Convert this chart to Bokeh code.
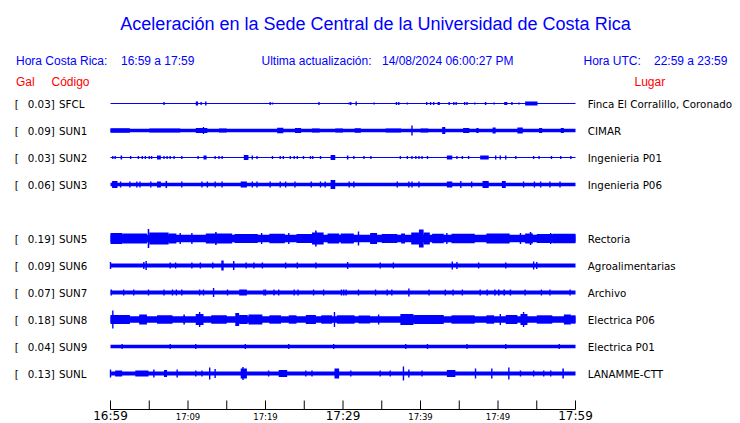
from bokeh.plotting import figure
from bokeh.models import Range1d, ColumnDataSource
from bokeh.core.properties import value
from bokeh.embed import file_html
from bokeh.resources import INLINE

# ---------------- data ----------------
title = "Aceleración en la Sede Central de la Universidad de Costa Rica"
hora_cr = "16:59 a 17:59"
actualizacion = "14/08/2024 06:00:27 PM"
hora_utc = "22:59 a 23:59"

stations = ["SFCL", "SUN1", "SUN2", "SUN3", "SUN5", "SUN6", "SUN7", "SUN8", "SUN9", "SUNL"]
slots = [0, 1, 2, 3, 5, 6, 7, 8, 9, 10]          # SUN4 slot is empty
peak_gal = ["0.03", "0.09", "0.03", "0.06", "0.19", "0.09", "0.07", "0.18", "0.04", "0.13"]
places = ["Finca El Corralillo, Coronado", "CIMAR", "Ingenieria P01", "Ingenieria P06",
          "Rectoria", "Agroalimentarias", "Archivo", "Electrica P06", "Electrica P01",
          "LANAMME-CTT"]

# background amplitude of each trace (display units)
base_amp = [0.6, 1.7, 0.6, 1.8, 3.8, 1.9, 1.9, 3.2, 1.8, 1.9]

# bursts: (minute start, minute end, half amplitude) ; spikes: (minute, half amplitude)
sfcl = [(6.9, 1.5), (11.0, 11.3, 2), (11.7, 1.5), (12.3, 2), (20.6, 1.5), (20.9, 1), (26.9, 1.5),
        (30.8, 1), (31.0, 1.5), (31.7, 2), (34.0, 1), (36.9, 1.5), (37.2, 1.5), (38.3, 1),
        (40.8, 1.5), (41.3, 1.5), (41.7, 1.5), (42.2, 42.5, 1.5), (43.7, 1.5), (44.3, 1.5),
        (44.6, 1.5), (45.7, 1.5), (46.0, 1.5), (47.0, 1), (48.3, 48.5, 1.5), (49.5, 1),
        (50.8, 51.2, 1.5), (51.8, 1.5), (52.7, 1), (53.5, 55.1, 2)]
sun1 = [(0.0, 2.5, 2.2), (5.0, 9.0, 2.1), (11.0, 12.5, 2.4), (12.0, 3.5), (14.0, 15.0, 2.1),
        (21.5, 22.3, 2.8), (23.8, 24.6, 2.6), (26.0, 27.0, 2.1), (29.0, 30.0, 2.1),
        (31.5, 32.3, 2.3), (35.5, 37.5, 2.1), (38.9, 5), (40.0, 41.0, 2.1), (42.8, 43.2, 3.5),
        (45.5, 46.3, 2.6), (47.2, 47.5, 2.6), (49.3, 49.7, 3), (52.5, 53.2, 3),
        (55.3, 55.7, 2.6), (58.1, 58.5, 2.6)]
sun2 = [(0.3, 1.5), (0.6, 1.5), (1.3, 1.5, 2), (2.6, 1.5), (3.6, 1.5), (4.1, 1.5), (4.5, 1.5),
        (5.0, 1.5), (5.3, 1.5), (6.0, 6.5, 2), (6.9, 1.5), (7.3, 1.5), (7.7, 1.5), (8.2, 1.5),
        (9.2, 1.5), (11.3, 1.5), (12.0, 12.4, 2), (13.5, 1.5), (14.0, 1.5), (14.4, 1.5),
        (17.2, 17.8, 2.5), (18.3, 2), (18.9, 1.5), (20.9, 1.5), (21.9, 1.5), (22.3, 1.5),
        (23.2, 1.5), (23.7, 1.5), (24.1, 1.5), (24.9, 1.5), (25.8, 1.5), (26.1, 1.5),
        (27.1, 1.5), (28.4, 29.0, 2.5), (30.5, 30.7, 2), (31.4, 1.5), (32.7, 1.5), (33.6, 1.5),
        (37.4, 1.5), (38.3, 1.5), (38.9, 1.5), (39.4, 1.5), (39.8, 1.5), (40.2, 1.5),
        (40.9, 1.5), (43.4, 44.1, 2), (44.7, 1.5), (45.4, 1.5), (46.2, 1.5), (47.7, 48.8, 2),
        (49.7, 2), (50.3, 2), (51.0, 2), (52.3, 1.5), (54.6, 1.5), (55.3, 1.5), (56.9, 1.5),
        (58.1, 1.5), (59.4, 1.5)]
sun3 = [(0.2, 0.9, 3.5), (1.3, 3), (2.5, 3), (3.4, 3), (3.8, 3), (5.2, 3), (6.0, 6.5, 3),
        (7.1, 7.3, 3.5), (9.2, 3), (11.8, 3), (12.5, 3), (13.5, 3), (14.4, 3), (16.8, 17.6, 3),
        (18.3, 3), (18.9, 3), (20.6, 3), (21.9, 3), (22.6, 3), (23.8, 3), (25.9, 3), (27.1, 3),
        (27.7, 3), (28.4, 29.0, 4.5), (30.8, 3), (31.4, 3), (37.0, 3), (38.5, 3), (38.9, 3),
        (39.8, 3), (43.4, 44.1, 3), (45.2, 3.5), (46.6, 3), (48.0, 48.8, 3.5),
        (50.5, 51.0, 3.5), (53.3, 3), (54.7, 3), (55.5, 3), (56.7, 3), (58.0, 3)]
sun5 = [(0.0, 1.5, 5.5), (1.5, 4.7, 5), (4.8, 5.0, 9.5), (5.0, 7.5, 6), (7.5, 8.5, 5),
        (9.0, 5.5), (10.5, 5.5), (12.3, 15.7, 5), (13.5, 13.7, 6.5), (16.0, 19.0, 4.5),
        (19.5, 5.5), (20.5, 22.5, 4.8), (23.0, 5.5), (24.0, 26.0, 4.5), (26.0, 27.5, 6),
        (26.4, 26.6, 8), (28.0, 29.5, 5), (29.7, 31.4, 5), (32.0, 7), (33.5, 34.4, 5.5),
        (35.0, 37.0, 4.5), (37.5, 38.0, 5), (38.8, 39.8, 6), (39.8, 40.4, 9), (40.4, 41.2, 6),
        (41.5, 43.0, 4.8), (43.4, 5.5), (44.0, 47.0, 4.8), (48.5, 51.5, 5), (52.9, 5.5),
        (53.5, 54.5, 5), (54.1, 54.3, 6.5), (55.0, 57.0, 4.5), (56.8, 5.5), (57.0, 60.0, 4.8)]
sun6 = [(0.0, 3.5), (4.3, 3.5), (4.6, 4.5), (7.7, 3), (8.4, 3), (10.5, 3), (11.6, 3), (13.2, 3),
        (14.3, 14.6, 5), (15.9, 4.5), (17.5, 3), (18.5, 3), (19.6, 3), (22.6, 3), (24.1, 3),
        (26.5, 3), (30.6, 3.5), (34.8, 3), (36.5, 3), (44.1, 4), (44.7, 3.5), (47.5, 3),
        (51.0, 3), (54.6, 4), (55.0, 3.5)]
sun7 = [(0.1, 3), (1.7, 3), (3.0, 3), (4.9, 3), (6.9, 3), (8.0, 3), (8.5, 3), (9.2, 3),
        (11.5, 3), (12.0, 3), (13.3, 4.5), (15.1, 3), (16.6, 17.6, 3), (19.8, 3), (20.0, 3),
        (21.1, 3), (21.7, 3), (23.7, 3), (24.2, 3), (26.2, 3), (27.5, 3), (29.8, 3), (30.1, 3),
        (30.4, 3), (32.0, 3), (34.2, 3), (35.7, 3), (36.3, 3), (38.5, 4), (41.1, 3), (43.2, 3),
        (44.2, 3), (45.4, 3), (47.7, 3), (48.6, 3), (49.5, 49.7, 3), (50.0, 50.2, 3),
        (50.7, 50.9, 3), (51.5, 51.7, 3), (53.5, 3), (55.6, 3), (56.7, 3), (59.3, 3)]
sun8 = [(0.0, 2.5, 4.5), (0.3, 9), (3.7, 4.7, 5), (6.0, 8.0, 4.2), (9.4, 9.6, 5),
        (11.0, 12.0, 5.5), (11.5, 7.5), (13.0, 15.0, 4.2), (16.1, 16.6, 6.5), (16.6, 17.7, 4.5),
        (17.8, 19.6, 5), (20.5, 22.0, 4.2), (23.0, 24.0, 4.2), (25.2, 26.5, 4.5), (27.2, 28.6, 4.2),
        (28.9, 7.5), (29.2, 31.5, 4.2), (32.0, 33.5, 4), (34.6, 5), (37.4, 39.1, 5.5),
        (39.1, 43.0, 4.5), (44.0, 47.0, 4.2), (48.5, 49.5, 4.2), (50.3, 5.5), (51.0, 52.5, 4.5),
        (52.9, 53.8, 5.5), (53.3, 7.5), (55.0, 57.0, 4.2), (58.5, 59.4, 5), (59.4, 60.0, 4.2)]
sun9 = [(1.5, 2.5), (7.7, 2.5), (11.0, 2.5), (17.4, 2.5), (23.0, 2.5), (28.8, 2.5), (38.1, 2.5),
        (40.9, 2.5), (46.0, 2.5), (51.0, 2.5), (57.9, 2.5)]
sunl = [(0.0, 4), (0.6, 1.5, 3), (3.2, 4.9, 3), (5.6, 4), (6.9, 7.3, 3.5), (8.6, 4), (11.0, 3),
        (11.8, 3), (12.8, 6), (13.5, 4.5), (16.8, 17.6, 5), (17.1, 6.5), (20.4, 3),
        (21.7, 22.8, 3.5), (25.2, 3), (26.0, 3), (28.9, 29.5, 5), (31.0, 3), (34.8, 3),
        (36.1, 3), (37.8, 7), (38.5, 4), (40.2, 3), (43.4, 44.5, 3.5), (47.1, 5), (49.2, 5),
        (51.4, 6), (52.9, 3), (54.6, 3), (55.9, 3), (56.8, 3), (58.3, 58.5, 5)]
bursts = [sfcl, sun1, sun2, sun3, sun5, sun6, sun7, sun8, sun9, sunl]

tick_minutes = [0, 5, 10, 15, 20, 25, 30, 35, 40, 45, 50, 55, 60]
small_minutes = [10, 20, 40, 50]
small_labels = ["17:09", "17:19", "17:39", "17:49"]
big_minutes = [0, 30, 60]
big_labels = ["16:59", "17:29", "17:59"]

# ---------------- layout ----------------
W, H = 740, 423
X0, PXMIN = 110.0, 7.75          # page x of minute 0, pixels per minute
Y0, DY = 103.0, 27.0             # page y of first trace, trace spacing
AXIS_Y = 409.0
BLUE, RED = "#0000ff", "#ff0000"
SPIKE_W = 0.18


def px(x):
    """page x (pixels) -> minutes"""
    return (x - X0) / PXMIN


p = figure(width=W, height=H, output_backend="svg", toolbar_location=None,
           x_axis_location=None, y_axis_location=None,
           x_range=Range1d(px(0), px(W)), y_range=Range1d(H, 0),
           min_border_left=0, min_border_right=0, min_border_top=0, min_border_bottom=0)
p.outline_line_color = None
p.grid.visible = False
p.background_fill_color = "white"
p.border_fill_color = "white"

# traces
L, R, T, B = [], [], [], []
for slot, b, bl in zip(slots, base_amp, bursts):
    yc = Y0 + DY * slot
    L.append(0); R.append(60); T.append(yc - b); B.append(yc + b)
    for e in bl:
        if len(e) == 2:
            t0, t1, a = e[0] - SPIKE_W / 2, e[0] + SPIKE_W / 2, e[1]
        else:
            t0, t1, a = e
        L.append(t0); R.append(t1); T.append(yc - a); B.append(yc + a)
p.quad(left=L, right=R, top=T, bottom=B, fill_color=BLUE, line_color=None)

# station labels
ys = [Y0 + DY * s + 0.3 for s in slots]
lab = ColumnDataSource(dict(y=ys, gal=[g + "]" for g in peak_gal], code=stations, place=places,
                            br=["["] * len(slots)))
fnt = value("DejaVu Sans")
for xx, col in [(14.3, "br"), (27.3, "gal"), (58.5, "code"), (587.3, "place")]:
    p.text(x=px(xx), y="y", text=col, source=lab, text_font=fnt, text_font_size="10.3px",
           text_color="black", text_baseline="middle")

# header texts
hf = value("Liberation Sans")
p.text(x=[px(375)], y=[23], text=[title], text_font=hf, text_font_size="18px",
       text_color=BLUE, text_align="center", text_baseline="middle")
hdr_x = [15.5, 120.5, 261, 381.5, 583, 653.5]
hdr_t = ["Hora Costa Rica:", hora_cr, "Ultima actualización:", actualizacion, "Hora UTC:", hora_utc]
p.text(x=[px(v) for v in hdr_x], y=[60.7] * 6, text=hdr_t, text_font=hf,
       text_font_size="12px", text_color=BLUE, text_baseline="middle")
p.text(x=[px(15.5), px(51), px(634)], y=[81] * 3, text=["Gal", "Código", "Lugar"],
       text_font=hf, text_font_size="12px", text_color=RED, text_baseline="middle")

# time axis (line, ticks and labels on the minute scale)
p.segment(x0=[tick_minutes[0]], y0=[AXIS_Y], x1=[tick_minutes[-1]], y1=[AXIS_Y],
          line_color="black", line_width=1)
p.segment(x0=tick_minutes, y0=[AXIS_Y - 9] * len(tick_minutes), x1=tick_minutes,
          y1=[AXIS_Y] * len(tick_minutes), line_color="black", line_width=1)
p.text(x=small_minutes, y=[416] * len(small_minutes), text=small_labels,
       text_font=fnt, text_font_size="8.5px", text_color="black", text_align="center",
       text_baseline="middle")
p.text(x=big_minutes, y=[415.8] * len(big_minutes), text=big_labels,
       text_font=fnt, text_font_size="12px", text_color="black", text_align="center",
       text_baseline="middle")

open("out.html", "w").write(file_html(p, INLINE))
